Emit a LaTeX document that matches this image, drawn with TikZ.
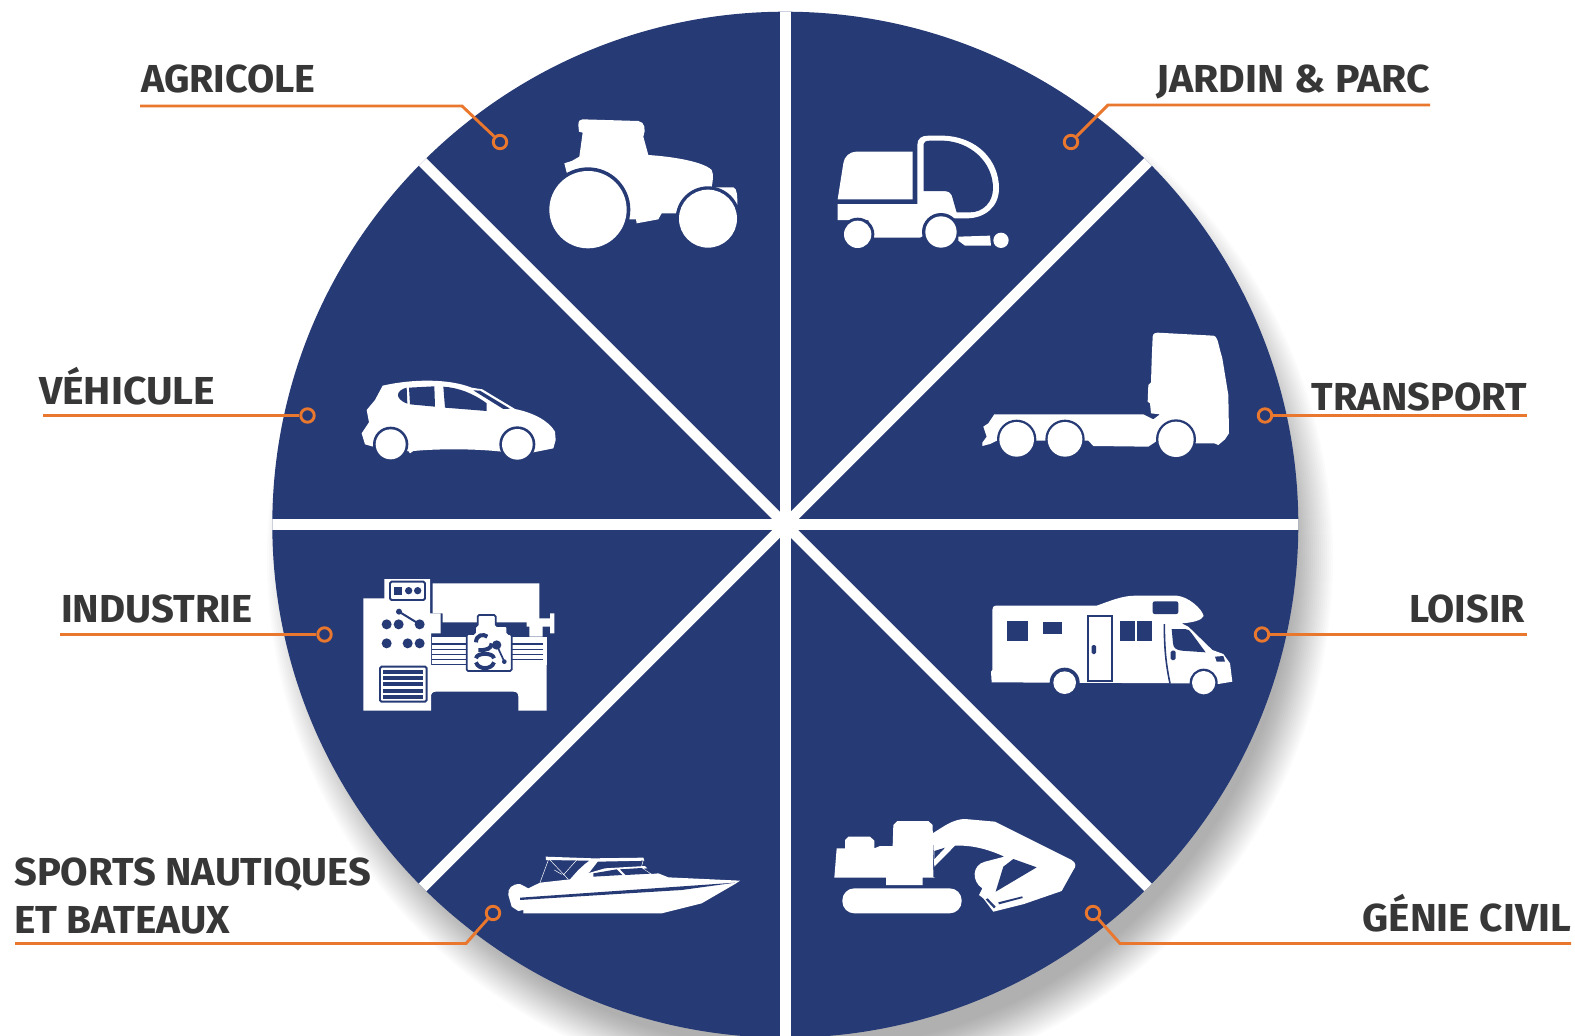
\documentclass[tikz,border=0pt]{standalone}
\usepackage{fontspec}
\usepackage{graphicx}
\setmainfont{Fira Sans}
\definecolor{navy}{HTML}{263A75}
\definecolor{ora}{HTML}{E9772E}
\definecolor{ink}{HTML}{373737}
\newcommand{\widened}[2]{\scalebox{#1}[1]{#2}}
\tikzset{
  labeltext/.style={inner sep=0pt,text=ink,font=\fontsize{39}{44}\selectfont\bfseries,anchor=base west},
  leader/.style={draw=ora,line width=2.9pt},
  ldot/.style={circle,draw=ora,line width=2.9pt,minimum size=13.5pt,inner sep=0pt},
  wh/.style={fill=white,draw=none},
  nv/.style={fill=navy,draw=none},
  sep/.style={draw=white,line width=10.7pt},
  nvline/.style={draw=navy,fill=none},
  icon/.style={scale=1/3}
}
\begin{document}
\begin{tikzpicture}[x=1pt,y=-1pt]
\path[use as bounding box,fill=white] (0,0) rectangle (1575,1036);
% shadow
\foreach \d in {-20,-18,...,20}{
  \fill[black,opacity=0.016] (800,558) circle[radius=513+\d];
}
% pie
\fill[navy] (785.3,524.7) circle[radius=513];
\begin{scope}
\clip (785.3,524.7) circle[radius=513];
\draw[sep] (785.3,0) -- (785.3,1040);
\draw[sep] (260,524.7) -- (1310,524.7);
\draw[sep] (285.3,24.7) -- (1285.3,1024.7);
\draw[sep] (285.3,1024.7) -- (1285.3,24.7);
\end{scope}

% tractor
\begin{scope}[shift={(530,100)},icon]
\fill[wh] (145,75) .. controls (145,62) and (150,58) .. (158,58) -- (325,63) .. controls (345,65) and (348,90) .. (340,110) -- (355,165) .. controls (430,170) and (520,185) .. (545,210) .. controls (552,225) and (548,245) .. (545,262) -- (610,262) .. controls (622,265) and (622,290) .. (622,315) -- (500,345) -- (440,340) -- (395,340) -- (385,358) -- (320,370) -- (318,358) -- (298,358) -- (290,300) -- (110,218) -- (103,190) -- (125,183) -- (148,170) -- (158,98) -- (147,95) -- cycle;
\fill[nv] (174,329) circle[radius=127];
\fill[wh] (174,329) circle[radius=116];
\fill[nv] (534,356) circle[radius=97];
\fill[wh] (534,356) circle[radius=87];
\end{scope}

% sweeper
\begin{scope}[shift={(820,120)},icon]
\fill[wh] (53,238) -- (70,130) .. controls (72,110) and (90,95) .. (108,95) -- (278,95) -- (278,238) -- cycle;
\fill[wh] (53,252) -- (292,252) -- (292,75) .. controls (292,55) and (305,47) .. (325,47) -- (370,47) .. controls (470,50) and (537,120) .. (537,205) .. controls (537,260) and (495,295) .. (440,295) -- (400,295) -- (300,353) -- (160,353) -- (145,300) -- (53,300) -- cycle;
\fill[nv] (311,72) .. controls (311,66) and (318,62) .. (330,62) -- (370,62) .. controls (450,65) and (519,125) .. (519,205) .. controls (519,245) and (490,277) .. (450,277) -- (410,277) -- (395,225) .. controls (390,217) and (385,213) .. (375,213) -- (311,213) -- cycle;
\fill[nv] (113,343) circle[radius=50];
\fill[wh] (113,343) circle[radius=41];
\fill[nv] (363,336) circle[radius=57];
\fill[wh] (363,336) circle[radius=47];
\fill[wh] (415,350) -- (510,347) -- (513,377) -- (435,377) -- (415,362) -- cycle;
\fill[wh] (543,361) circle[radius=23];
\end{scope}

% truck
\begin{scope}[shift={(965,320)},icon]
\fill[wh] (563,50) .. controls (565,40) and (570,38) .. (578,38) -- (745,47) .. controls (755,48) and (758,60) .. (765,90) -- (772,115) -- (790,225) -- (792,340) -- (780,358) -- (760,375) -- (748,370) -- (695,370) -- (580,360) -- (550,380) -- (385,378) -- (370,362) -- (215,362) -- (100,360) -- (75,372) -- (52,378) -- (52,368) -- (65,350) -- (55,320) -- (70,310) -- (88,283) -- (535,283) -- (565,298) -- (585,283) -- (558,280) -- (555,250) -- (548,245) -- (550,195) -- (558,187) -- (560,120) -- cycle;
\fill[nv] (155,358) circle[radius=59];
\fill[wh] (155,358) circle[radius=52];
\fill[nv] (300,358) circle[radius=59];
\fill[wh] (300,358) circle[radius=52];
\fill[nv] (633,358) circle[radius=60];
\fill[wh] (633,358) circle[radius=53];
\end{scope}

% car
\begin{scope}[shift={(345,365)},icon]
\fill[wh] (113,62) .. controls (200,42) and (310,40) .. (380,68) -- (412,73) -- (510,132) .. controls (560,142) and (610,165) .. (630,200) -- (632,225) -- (625,250) -- (565,262) -- (470,260) .. controls (400,252) and (290,250) .. (205,258) -- (195,265) -- (190,258) -- (130,258) -- (60,238) -- (50,205) -- (72,172) -- (65,135) -- (90,105) -- cycle;
\fill[nv] (185,68) .. controls (155,75) and (145,100) .. (187,116) -- cycle;
\fill[nv] (192,68) -- (268,64) -- (270,125) -- (195,118) -- cycle;
\fill[nv] (295,65) .. controls (340,68) and (385,85) .. (425,115) -- (425,138) -- (300,128) -- cycle;
\fill[nv] (385,76) -- (405,77) -- (495,131) -- (475,132) -- cycle;
\fill[nv] (137,238) circle[radius=53];
\fill[wh] (137,238) circle[radius=45];
\fill[nv] (517,238) circle[radius=54];
\fill[wh] (517,238) circle[radius=46];
\end{scope}

% lathe
\begin{scope}[shift={(350,565)},icon]
\fill[wh] (40,100) -- (103,100) -- (103,42) -- (240,42) -- (240,145) -- (272,145) -- (272,205) -- (243,205) -- (243,300) -- (590,300) -- (590,437) -- (505,437) -- (505,395) .. controls (505,385) and (500,380) .. (490,380) -- (258,380) .. controls (248,380) and (243,385) .. (243,395) -- (243,437) -- (40,437) -- cycle;
\fill[wh] (248,55) -- (568,55) -- (568,172) -- (278,172) -- (278,145) -- (248,145) -- cycle;
\fill[wh] (246,215) rectangle (352,296);
\fill[wh] (485,215) rectangle (590,300);
\fill[wh] (530,160) -- (600,160) -- (600,145) -- (613,145) -- (613,205) -- (600,205) -- (600,185) -- (578,185) -- (578,215) -- (538,215) -- (538,185) -- (530,185) -- cycle;
\foreach \yy in {237,253,268,283}{
  \fill[nv] (246,\yy-2.5) rectangle (352,\yy+2.5);
  \fill[nv] (485,\yy-2.5) rectangle (578,\yy+2.5);
}
\draw[nvline,fill=white,line width=1.7pt,rounded corners=1.5pt] (383,150) -- (437,150) -- (437,183) -- (472,183) -- (472,207) -- (485,207) -- (485,318) -- (350,318) -- (350,207) -- (375,207) -- (375,183) -- (383,183) -- cycle;
\draw[nvline,line width=4pt] (378,232) .. controls (378,210) and (400,205) .. (412,215);
\draw[nvline,line width=4pt] (425,235) .. controls (425,250) and (410,257) .. (385,255);
\draw[nvline,line width=4pt] (378,280) .. controls (380,262) and (430,262) .. (432,280);
\draw[nvline,line width=4pt] (378,292) .. controls (385,315) and (425,315) .. (432,292);
\fill[nv] (440,240) circle[radius=14];
\draw[nvline,line width=1.7pt] (440,240) -- (463,290);
\fill[nv] (463,290) circle[radius=7];
\draw[nvline,line width=1.9pt,rounded corners=1.5pt] (120,50) rectangle (225,105);
\fill[nv] (132,65) rectangle (157,90);
\fill[nv] (176,77) circle[radius=11];
\fill[nv] (203,77) circle[radius=11];
\draw[nvline,line width=2pt] (147,140) -- (209,178);
\fill[nv] (147,140) circle[radius=9];
\foreach \cx/\cy in {110/178,146/178,209/178,110/235,173/235,209/235}{
  \fill[nv] (\cx,\cy) circle[radius=15];
}
\draw[nvline,line width=1.9pt,rounded corners=1.5pt] (90,305) rectangle (230,410);
\foreach \yy in {320,338,357,377,396}{
  \fill[nv] (100,\yy-5.5) rectangle (220,\yy+5.5);
}
\end{scope}

% motorhome
\begin{scope}[shift={(975,580)},icon]
\fill[wh] (52,90) .. controls (52,82) and (56,77) .. (62,77) -- (365,77) .. controls (400,65) and (440,47) .. (480,47) -- (605,47) .. controls (640,50) and (680,85) .. (686,108) .. controls (680,122) and (650,128) .. (620,130) -- (640,140) -- (712,210) -- (745,222) -- (765,250) -- (772,305) -- (730,312) -- (640,310) -- (50,307) -- (48,275) -- (52,270) -- cycle;
\fill[nv] (95,123) rectangle (158,182);
\fill[nv] (205,127) rectangle (262,163);
\draw[nvline,line width=1.9pt] (338,107) rectangle (411,302);
\fill[nv,rounded corners=1.5pt] (350,195) rectangle (363,222);
\fill[nv] (434,123) rectangle (480,182);
\fill[nv] (487,123) rectangle (532,182);
\fill[nv,rounded corners=2pt] (533,64) rectangle (610,102);
\draw[nvline,line width=1.6pt] (568,132) .. controls (568,200) and (572,250) .. (585,310);
\fill[nv] (590,147) -- (630,147) .. controls (640,147) and (645,152) .. (650,160) -- (692,217) -- (620,212) .. controls (605,210) and (595,205) .. (594,190) -- cycle;
\fill[nv,rounded corners=1.5pt] (587,212) rectangle (602,240);
\fill[nv] (720,230) -- (745,228) -- (750,245) -- (725,245) -- cycle;
\fill[nv] (269,308) circle[radius=45];
\fill[nv] (686,308) circle[radius=42];
\fill[nv] (215,312) rectangle (330,350);
\fill[nv] (635,312) rectangle (740,350);
\fill[wh] (269,308) circle[radius=34];
\fill[wh] (686,308) circle[radius=35];
\end{scope}

% excavator
\begin{scope}[shift={(820,805)},icon]
\fill[wh] (50,130) -- (75,130) -- (75,105) -- (85,95) -- (150,95) -- (163,107) -- (163,130) -- (180,123) -- (218,123) -- (220,60) -- (232,48) -- (325,48) -- (338,60) -- (340,216) -- (345,218) -- (308,218) -- (308,240) -- (198,240) -- (198,218) -- (43,218) -- cycle;
\fill[wh] (338,85) .. controls (370,65) and (400,42) .. (435,42) -- (525,50) -- (755,165) .. controls (770,175) and (768,185) .. (760,195) -- (725,258) -- (612,297) -- (520,320) -- (490,280) -- (477,270) -- (487,250) .. controls (455,230) and (455,180) .. (495,170) -- (553,155) .. controls (500,130) and (450,120) .. (405,122) -- (343,185) -- cycle;
\fill[nv] (343,138) -- (375,128) -- (343,162) -- cycle;
\fill[nv] (580,162) -- (650,187) -- (527,260) -- (550,185) -- cycle;
\fill[nv] (535,292) -- (607,274) -- (608,279) -- (537,298) -- cycle;
\fill[nv] (497,283) -- (522,310) -- (527,305) -- (503,280) -- cycle;
\fill[wh,rounded corners=12pt] (67,250) rectangle (425,325);
\end{scope}

% boat
\begin{scope}[shift={(495,840)},icon]
\fill[wh] (40,165) .. controls (38,145) and (50,132) .. (75,132) -- (100,145) -- (135,128) -- (225,118) -- (250,90) -- (270,72) -- (283,62) -- (153,60) -- (152,50) -- (295,55) -- (445,53) -- (448,62) -- (308,65) -- (285,95) -- (278,100) -- (330,85) -- (450,78) -- (457,85) -- (445,86) -- (470,102) -- (490,100) -- (520,112) -- (735,122) -- (720,132) -- (620,190) -- (500,220) -- (85,220) -- (85,210) -- (70,213) -- (50,200) -- cycle;
\fill[nv] (295,100) -- (365,88) -- (382,105) -- (295,110) -- cycle;
\fill[nv] (375,88) -- (440,84) -- (465,101) -- (392,105) -- cycle;
\fill[nv] (75,173) -- (720,128) -- (560,150) -- (75,180) -- cycle;
\draw[white,line width=0.5pt] (135,128) -- (160,60) (165,60) -- (220,118) (245,60) -- (205,105) (178,90) -- (200,103) (445,60) -- (440,78);
\end{scope}

% labels
\node[labeltext] (tA) at (141,92) {\widened{1.012}{AGRICOLE}};
\node[labeltext,anchor=base east] (tJ) at (1430,92) {\widened{1.05}{JARDIN \& PARC}};
\node[labeltext] (tV) at (39,404) {\widened{1.048}{VÉHICULE}};
\node[labeltext,anchor=base east] (tT) at (1527,410) {\widened{1.02}{TRANSPORT}};
\node[labeltext] (tI) at (61,622) {\widened{1.027}{INDUSTRIE}};
\node[labeltext,anchor=base east] (tL) at (1525,622) {\widened{1.01}{LOISIR}};
\node[labeltext] (tS1) at (14,885) {\widened{1.023}{SPORTS NAUTIQUES}};
\node[labeltext] (tS2) at (14,933) {\widened{1.039}{ET BATEAUX}};
\node[labeltext,anchor=base east] (tG) at (1571,931) {\widened{1.04}{GÉNIE CIVIL}};

% leaders
\node[ldot] (dA) at (500,142) {};
\node[ldot] (dJ) at (1071,142) {};
\node[ldot] (dV) at (307.5,415.5) {};
\node[ldot] (dT) at (1265,415.5) {};
\node[ldot] (dI) at (324.5,634.5) {};
\node[ldot] (dL) at (1262,634.5) {};
\node[ldot] (dS) at (493,913) {};
\node[ldot] (dG) at (1093,913) {};
\coordinate (a0) at (140,106); \coordinate (a1) at (462,106);
\coordinate (j0) at (1430,105); \coordinate (j1) at (1108,105);
\coordinate (v0) at (43,415.5);
\coordinate (t0) at (1527,415.5);
\coordinate (i0) at (60,634.5);
\coordinate (l0) at (1527,634.5);
\coordinate (s0) at (15,943.5); \coordinate (s1) at (466,943.5);
\coordinate (g0) at (1571,943.5); \coordinate (g1) at (1120,943.5);
\draw[leader] (a0) -- (a1) -- (dA);
\draw[leader] (j0) -- (j1) -- (dJ);
\draw[leader] (v0) -- (dV);
\draw[leader] (t0) -- (dT);
\draw[leader] (i0) -- (dI);
\draw[leader] (l0) -- (dL);
\draw[leader] (s0) -- (s1) -- (dS);
\draw[leader] (g0) -- (g1) -- (dG);
\end{tikzpicture}
\end{document}
